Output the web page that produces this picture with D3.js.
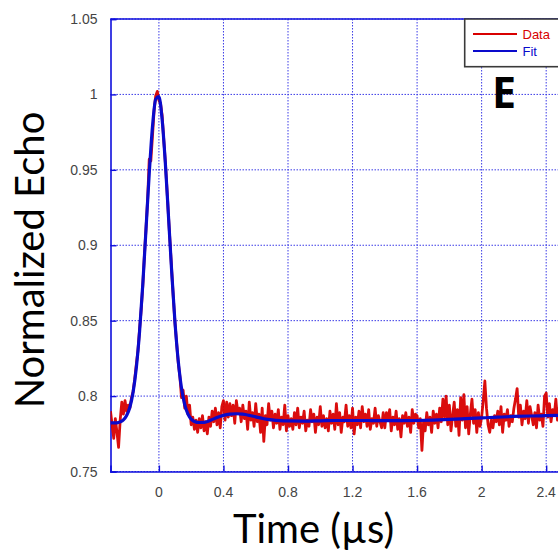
<!DOCTYPE html>
<html><head><meta charset="utf-8">
<script src="https://cdn.jsdelivr.net/npm/d3@7"></script>
<style>body{margin:0;background:#fff;overflow:hidden}svg{display:block}</style>
</head><body>
<svg id="c" width="558" height="552"></svg>
<script>
const xTicks = [0, 0.4, 0.8, 1.2, 1.6, 2, 2.4];
const xTickLabels = ["0", "0.4", "0.8", "1.2", "1.6", "2", "2.4"];
const xGrid = [0, 0.4, 0.8, 1.2, 1.6, 2, 2.4, 2.8];
const yTicks = [0.75, 0.8, 0.85, 0.9, 0.95, 1, 1.05];
const yTickLabels = ["0.75", "0.8", "0.85", "0.9", "0.95", "1", "1.05"];
const seriesNames = ["Data", "Fit"];

const dataTime = [
-0.30,-0.29,-0.28,-0.27,-0.26,-0.25,-0.24,-0.23,-0.22,-0.21,
-0.20,-0.19,-0.18,-0.17,-0.16,-0.15,-0.14,-0.13,-0.12,-0.11,
-0.10,-0.09,-0.08,-0.07,-0.06,-0.05,-0.04,-0.03,-0.02,-0.01,
0.00,0.01,0.02,0.03,0.04,0.05,0.06,0.07,0.08,0.09,
0.10,0.11,0.12,0.13,0.14,0.15,0.16,0.17,0.18,0.19,
0.20,0.21,0.22,0.23,0.24,0.25,0.26,0.27,0.28,0.29,
0.30,0.31,0.32,0.33,0.34,0.35,0.36,0.37,0.38,0.39,
0.40,0.41,0.42,0.43,0.44,0.45,0.46,0.47,0.48,0.49,
0.50,0.51,0.52,0.53,0.54,0.55,0.56,0.57,0.58,0.59,
0.60,0.61,0.62,0.63,0.64,0.65,0.66,0.67,0.68,0.69,
0.70,0.71,0.72,0.73,0.74,0.75,0.76,0.77,0.78,0.79,
0.80,0.81,0.82,0.83,0.84,0.85,0.86,0.87,0.88,0.89,
0.90,0.91,0.92,0.93,0.94,0.95,0.96,0.97,0.98,0.99,
1.00,1.01,1.02,1.03,1.04,1.05,1.06,1.07,1.08,1.09,
1.10,1.11,1.12,1.13,1.14,1.15,1.16,1.17,1.18,1.19,
1.20,1.21,1.22,1.23,1.24,1.25,1.26,1.27,1.28,1.29,
1.30,1.31,1.32,1.33,1.34,1.35,1.36,1.37,1.38,1.39,
1.40,1.41,1.42,1.43,1.44,1.45,1.46,1.47,1.48,1.49,
1.50,1.51,1.52,1.53,1.54,1.55,1.56,1.57,1.58,1.59,
1.60,1.61,1.62,1.63,1.64,1.65,1.66,1.67,1.68,1.69,
1.70,1.71,1.72,1.73,1.74,1.75,1.76,1.77,1.78,1.79,
1.80,1.81,1.82,1.83,1.84,1.85,1.86,1.87,1.88,1.89,
1.90,1.91,1.92,1.93,1.94,1.95,1.96,1.97,1.98,1.99,
2.00,2.01,2.02,2.03,2.04,2.05,2.06,2.07,2.08,2.09,
2.10,2.11,2.12,2.13,2.14,2.15,2.16,2.17,2.18,2.19,
2.20,2.21,2.22,2.23,2.24,2.25,2.26,2.27,2.28,2.29,
2.30,2.31,2.32,2.33,2.34,2.35,2.36,2.37,2.38,2.39,
2.40,2.41,2.42,2.43,2.44,2.45,2.46,2.47,2.48,2.49,
2.50];

const dataEcho = [
0.790,0.781,0.772,0.785,0.776,0.766,0.784,0.796,0.788,0.797,
0.790,0.794,0.792,0.799,0.803,0.811,0.821,0.830,0.844,0.857,
0.873,0.893,0.911,0.930,0.957,0.956,0.972,0.989,0.999,1.002,
0.996,0.994,0.986,0.970,0.955,0.937,0.918,0.900,0.882,0.864,
0.848,0.835,0.822,0.813,0.799,0.804,0.792,0.800,0.788,0.794,
0.781,0.786,0.778,0.784,0.776,0.785,0.779,0.787,0.777,0.783,
0.775,0.786,0.780,0.790,0.783,0.792,0.781,0.789,0.779,0.793,
0.797,0.784,0.796,0.786,0.795,0.787,0.794,0.782,0.797,0.789,
0.792,0.783,0.794,0.785,0.790,0.778,0.796,0.784,0.789,0.780,
0.795,0.783,0.788,0.776,0.792,0.770,0.787,0.781,0.795,0.784,
0.790,0.779,0.788,0.782,0.791,0.778,0.786,0.781,0.794,0.777,
0.787,0.780,0.785,0.778,0.789,0.781,0.792,0.779,0.786,0.782,
0.790,0.777,0.784,0.780,0.791,0.783,0.788,0.776,0.786,0.781,
0.793,0.780,0.787,0.779,0.785,0.777,0.790,0.782,0.788,0.778,
0.795,0.781,0.789,0.776,0.786,0.783,0.794,0.780,0.787,0.779,
0.792,0.775,0.786,0.781,0.790,0.779,0.793,0.783,0.788,0.780,
0.791,0.778,0.785,0.782,0.792,0.780,0.787,0.783,0.779,0.789,
0.779,0.789,0.784,0.791,0.777,0.786,0.781,0.790,0.778,0.785,
0.773,0.787,0.782,0.789,0.780,0.786,0.776,0.791,0.782,0.788,
0.787,0.779,0.785,0.764,0.783,0.777,0.789,0.781,0.786,0.776,
0.790,0.782,0.788,0.779,0.792,0.783,0.798,0.786,0.800,0.781,
0.794,0.777,0.787,0.796,0.780,0.791,0.774,0.799,0.784,0.801,
0.779,0.793,0.775,0.788,0.798,0.782,0.791,0.776,0.789,0.780,
0.786,0.797,0.810,0.792,0.781,0.776,0.784,0.779,0.787,0.783,
0.790,0.781,0.793,0.776,0.788,0.784,0.791,0.780,0.787,0.783,
0.792,0.798,0.805,0.786,0.794,0.781,0.790,0.785,0.797,0.782,
0.793,0.787,0.781,0.789,0.779,0.794,0.784,0.788,0.780,0.800,
0.802,0.786,0.795,0.783,0.791,0.787,0.798,0.784,0.792,0.786,
0.790];

const fitTime = [-0.30,-0.26,-0.24,-0.22,-0.20,-0.18,-0.16,-0.14,-0.12,-0.10,-0.08,-0.06,-0.04,-0.02,0.00,0.02,0.04,0.06,0.08,0.10,0.12,0.14,0.16,0.18,0.20,0.22,0.25,0.28,0.32,0.36,0.40,0.44,0.48,0.52,0.56,0.60,0.65,0.70,0.75,0.80,0.90,1.00,1.10,1.20,1.30,1.40,1.50,1.60,1.70,1.80,1.90,2.00,2.10,2.20,2.30,2.40,2.50,2.60];
const fitEcho = [0.7822,0.7823,0.7829,0.7842,0.7871,0.7926,0.8026,0.8188,0.8426,0.8739,0.9105,0.9474,0.9784,0.9968,0.9986,0.9833,0.9543,0.9180,0.8810,0.8483,0.8230,0.8053,0.7943,0.7880,0.7847,0.7832,0.7825,0.7826,0.7840,0.7858,0.7872,0.7880,0.7883,0.7880,0.7872,0.7862,0.7850,0.7842,0.7837,0.7835,0.7834,0.7836,0.7838,0.7838,0.7838,0.7837,0.7837,0.7838,0.7841,0.7845,0.7850,0.7855,0.7860,0.7865,0.7868,0.7870,0.7872,0.7873];

const svg = d3.select("#c");
const L = 110.5, T = 19, B = 471.5, R = 643;
const x = d3.scaleLinear().domain([-0.3, 3.0]).range([L, R]);
const y = d3.scaleLinear().domain([0.75, 1.05]).range([B, T]);

svg.append("defs").append("clipPath").attr("id","pc")
  .append("rect").attr("x",L).attr("y",T).attr("width",R-L).attr("height",B-T);

const grid = svg.append("g");
grid.selectAll("line.gx").data(xGrid).join("line")
  .attr("x1",d=>x(d)).attr("x2",d=>x(d)).attr("y1",T).attr("y2",B)
  .attr("stroke","#3a3ae6").attr("stroke-width",1).attr("stroke-dasharray","1.5,1.5");
grid.selectAll("line.gy").data(yTicks).join("line")
  .attr("x1",L).attr("x2",R).attr("y1",d=>y(d)).attr("y2",d=>y(d))
  .attr("stroke","#3a3ae6").attr("stroke-width",1).attr("stroke-dasharray","1.5,1.5");

// axes with inward ticks
const xAxis = d3.axisBottom(x).tickValues(xGrid).tickSize(-6).tickFormat(()=>"");
const gx = svg.append("g").attr("transform",`translate(0,${B})`).call(xAxis);
gx.select(".domain").attr("stroke","#1010dd").attr("stroke-width",1.6);
gx.selectAll(".tick line").attr("stroke","#1010dd").attr("stroke-width",1.4);
const yAxis = d3.axisLeft(y).tickValues(yTicks).tickSize(-6).tickFormat(()=>"");
const gy = svg.append("g").attr("transform",`translate(${L},0)`).call(yAxis);
gy.select(".domain").attr("stroke","#1010dd").attr("stroke-width",1.6);
gy.selectAll(".tick line").attr("stroke","#1010dd").attr("stroke-width",1.4);
svg.append("line").attr("x1",L).attr("x2",R).attr("y1",T).attr("y2",T)
  .attr("stroke","#1010dd").attr("stroke-width",1.6);

// tick labels
svg.append("g").selectAll("text").data(xTicks).join("text")
  .attr("x",d=>x(d)).attr("y",497).attr("text-anchor","middle")
  .attr("font-family","Liberation Sans, Arial, sans-serif").attr("font-size",14)
  .attr("fill","#444").text((d,i)=>xTickLabels[i]);
svg.append("g").selectAll("text").data(yTicks).join("text")
  .attr("x",97.5).attr("y",d=>y(d)+5).attr("text-anchor","end")
  .attr("font-family","Liberation Sans, Arial, sans-serif").attr("font-size",14)
  .attr("fill","#444").text((d,i)=>yTickLabels[i]);

// lines
const plot = svg.append("g").attr("clip-path","url(#pc)");
const dataPts = dataTime.map((t,i)=>[t,dataEcho[i]]);
const fitPts = fitTime.map((t,i)=>[t,fitEcho[i]]);
plot.append("path").datum(dataPts)
  .attr("d", d3.line().x(d=>x(d[0])).y(d=>y(d[1])))
  .attr("fill","none").attr("stroke","#d80000").attr("stroke-width",2.8)
  .attr("stroke-linejoin","round").attr("stroke-opacity",0.95);
plot.append("path").datum(fitPts)
  .attr("d", d3.line().x(d=>x(d[0])).y(d=>y(d[1])).curve(d3.curveMonotoneX))
  .attr("fill","none").attr("stroke","#0a0acc").attr("stroke-width",3.2)
  .attr("stroke-linejoin","round");

// legend
const lg = svg.append("g");
lg.append("rect").attr("x",464.7).attr("y",19).attr("width",140).attr("height",47.7)
  .attr("fill","#fff").attr("stroke","#3a3a3a").attr("stroke-width",1.6);
const lcol = ["#d80000","#0a0acc"];
seriesNames.forEach((n,i)=>{
  const yy = 34 + i*17;
  lg.append("line").attr("x1",473).attr("x2",517).attr("y1",yy).attr("y2",yy)
    .attr("stroke",lcol[i]).attr("stroke-width",2.2);
  lg.append("text").attr("x",522.5).attr("y",yy+4.5)
    .attr("font-family","Liberation Sans, Arial, sans-serif").attr("font-size",13)
    .attr("fill",lcol[i]).text(n);
});

// panel letter
svg.append("text").attr("x",492).attr("y",108)
  .attr("font-family","Open Sans, sans-serif").attr("font-weight","bold")
  .attr("font-size",43).attr("fill","#000").text("E");

// axis titles
svg.append("text").attr("transform","translate(44,260) rotate(-90)")
  .attr("text-anchor","middle").attr("font-family","Lato, sans-serif")
  .attr("font-size",40).attr("fill","#000").text("Normalized Echo");
svg.append("text").attr("x",313.5).attr("y",543).attr("text-anchor","middle")
  .attr("font-family","Lato, sans-serif").attr("font-size",40).attr("fill","#000")
  .text("Time (µs)");
</script>
</body></html>
